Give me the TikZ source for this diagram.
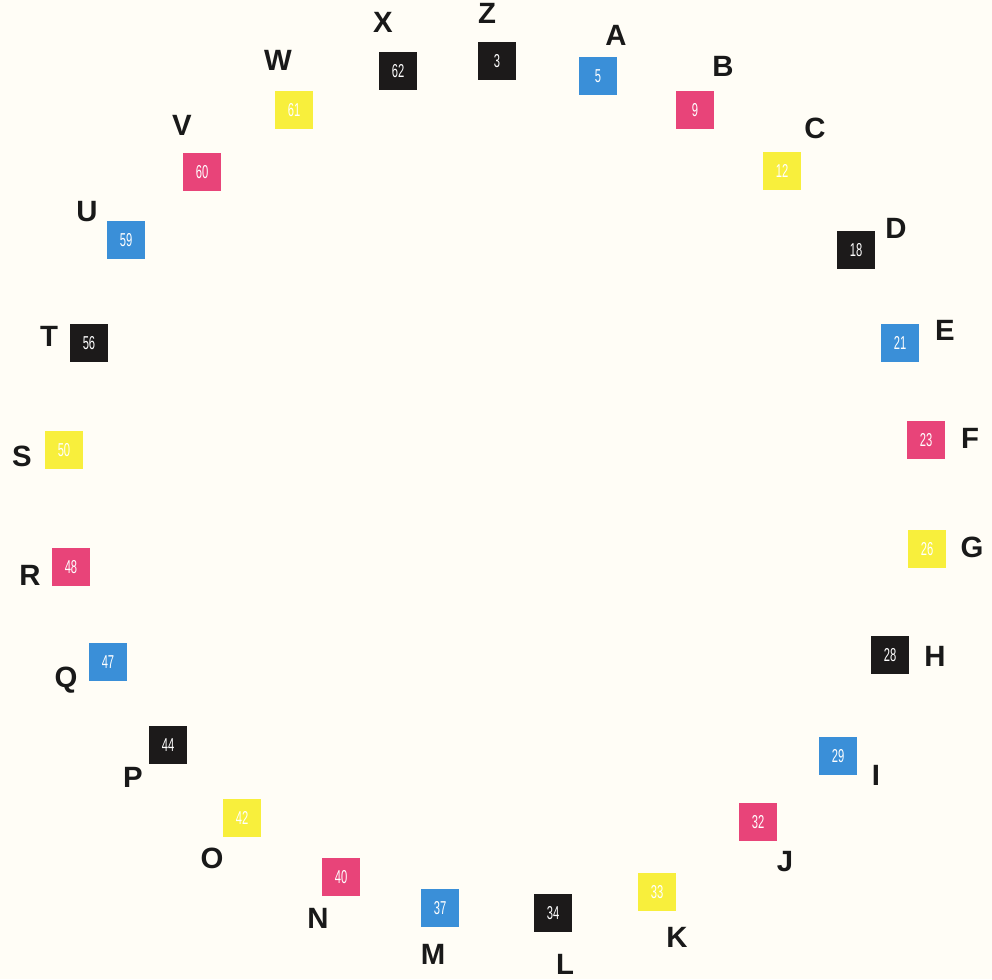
\documentclass[tikz,border=0pt]{standalone}
\usepackage{fontspec}
\setmainfont{Liberation Sans}
\usetikzlibrary{positioning}
\definecolor{paper}{HTML}{FFFDF6}
\definecolor{sqk}{HTML}{1C1A1A}
\definecolor{sqc}{HTML}{3A8FD8}
\definecolor{sqm}{HTML}{E84479}
\definecolor{sqy}{HTML}{F8EF3C}
\newcommand{\numtxt}[1]{\scalebox{0.6}[1]{#1}}

\begin{document}
\begin{tikzpicture}[x=0.75pt,y=-0.75pt,
  sq/.style={fill=#1,minimum size=28.5pt,inner sep=0pt,text=white,
    font=\fontsize{14}{14}\selectfont},
  lab/.style={font=\fontsize{22}{22}\selectfont\bfseries,text=black!90}]
\useasboundingbox (0,0) rectangle (992,979);
\fill[paper] (0,0) rectangle (992,979);
% numbered squares round the ring
\foreach \num/\col/\x/\y in {3/sqk/497/61, 5/sqc/598/76, 9/sqm/695/110,
  12/sqy/782/171, 18/sqk/856/250, 21/sqc/900/343, 23/sqm/926/440,
  26/sqy/927/549, 28/sqk/890/655, 29/sqc/838/756, 32/sqm/758/822,
  33/sqy/657/892, 34/sqk/553/913, 37/sqc/440/908, 40/sqm/341/877,
  42/sqy/242/818, 44/sqk/168/745, 47/sqc/108/662, 48/sqm/71/567,
  50/sqy/64/450, 56/sqk/89/343, 59/sqc/126/240, 60/sqm/202/172,
  61/sqy/294/110, 62/sqk/398/71}
  \node[sq=\col] (s\num) at (\x,\y) {\numtxt{\num}};
% letters
\foreach \lab/\x/\y in {Z/487/13, X/383/22, A/616/35, B/723/66, W/278/60,
  C/815/128, V/182/125, D/896/228, U/87/212, T/49/336, E/945/330,
  S/22/456, F/970/438, R/30/575, G/972/547, Q/66/680, H/935/656,
  P/133/777, I/876/775, O/212/858, J/785/862, N/318/918, K/677/937,
  M/433/954, L/565/964}
  \node[lab] (l\lab) at (\x,\y) {\lab};
\end{tikzpicture}
\end{document}
